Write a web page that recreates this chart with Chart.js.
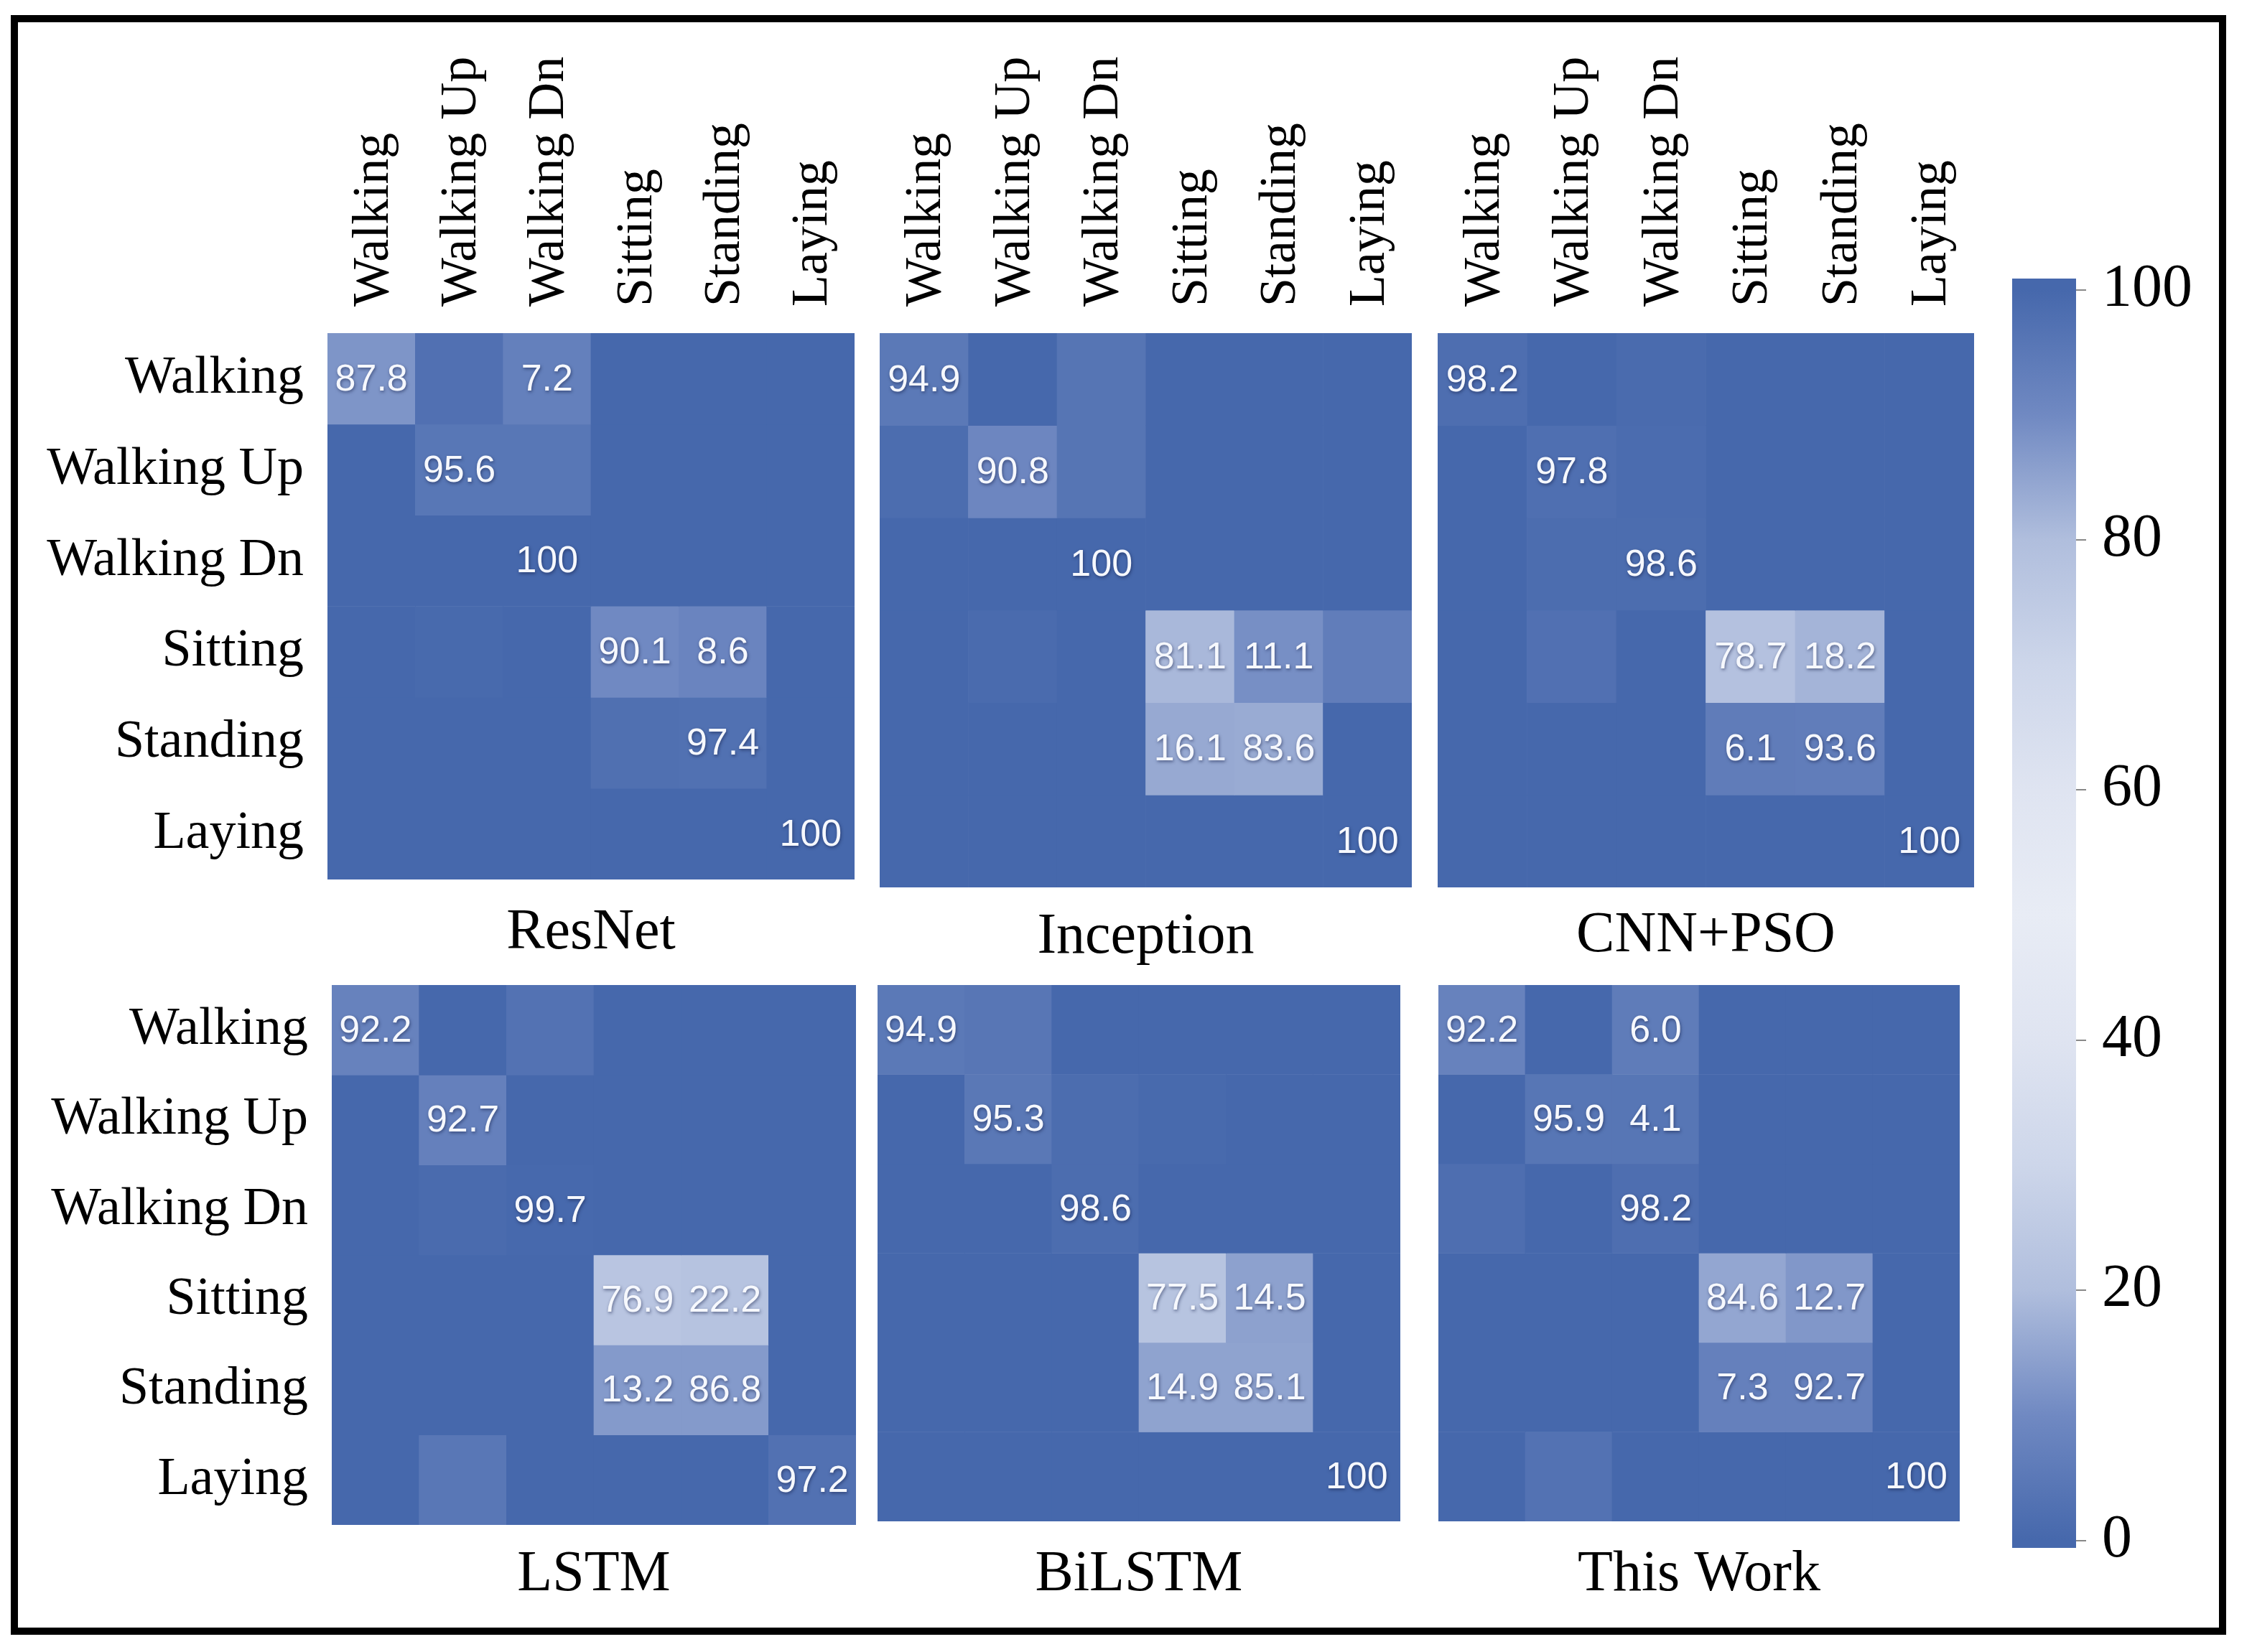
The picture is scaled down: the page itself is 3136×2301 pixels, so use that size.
<!DOCTYPE html>
<html>
<head>
<meta charset="utf-8">
<title>Confusion matrices</title>
<script src="https://cdn.jsdelivr.net/npm/chart.js"></script>
<style>
  html, body { margin: 0; padding: 0; background: #fff; }
  body { width: 3136px; height: 2301px; position: relative; overflow: hidden; }
  canvas { position: absolute; }
  #frame { position: absolute; left: 15px; top: 21px; width: 3085px; height: 2256px;
           box-sizing: border-box; border: 10px solid #000; }
</style>
</head>
<body>
<div id="frame"></div>
<script>
// classes (rows = true, columns = predicted)
const activities = ['Walking', 'Walking Up', 'Walking Dn', 'Sitting', 'Standing', 'Laying'];
const modelNames = ['ResNet', 'Inception', 'CNN+PSO', 'LSTM', 'BiLSTM', 'This Work'];

// percentages (unlabelled cells estimated from their shade)
const resnetValues = [
  [87.8, 2.5, 7.2, 0, 0, 0],
  [0, 95.6, 4.4, 0, 0, 0],
  [0, 0, 100, 0, 0, 0],
  [0, 0.5, 0, 90.1, 8.6, 0],
  [0, 0, 0, 2.4, 97.4, 0],
  [0, 0, 0, 0, 0, 100]
];
const inceptionValues = [
  [94.9, 0, 3.8, 0, 0, 0],
  [1.5, 90.8, 3.8, 0, 0, 0],
  [0, 0, 100, 0, 0, 0],
  [0, 1.0, 0, 81.1, 11.1, 6.5],
  [0, 0, 0, 16.1, 83.6, 0],
  [0, 0, 0, 0, 0, 100]
];
const cnnPsoValues = [
  [98.2, 0, 1.0, 0, 0, 0],
  [0, 97.8, 1.2, 0, 0, 0],
  [0, 1.4, 98.6, 0, 0, 0],
  [0, 2.5, 0, 78.7, 18.2, 0],
  [0, 0, 0, 6.1, 93.6, 0],
  [0, 0, 0, 0, 0, 100]
];
const lstmValues = [
  [92.2, 0, 3.0, 0, 0, 0],
  [0, 92.7, 0, 0, 0, 0],
  [0, 1.0, 99.7, 0, 0, 0],
  [0, 0, 0, 76.9, 22.2, 0],
  [0, 0, 0, 13.2, 86.8, 0],
  [0, 4.5, 0, 0, 0, 97.2]
];
const bilstmValues = [
  [94.9, 4.2, 0, 0, 0, 0],
  [0, 95.3, 1.5, 0.5, 0, 0],
  [0, 0, 98.6, 0, 0, 0],
  [0, 0, 0, 77.5, 14.5, 0],
  [0, 0, 0, 14.9, 85.1, 0],
  [0, 0, 0, 0, 0, 100]
];
const thisWorkValues = [
  [92.2, 0, 6.0, 0, 0, 0],
  [0, 95.9, 4.1, 0, 0, 0],
  [1.8, 0, 98.2, 0, 0, 0],
  [0, 0, 0, 84.6, 12.7, 0],
  [0, 0, 0, 7.3, 92.7, 0],
  [0, 3.0, 0, 0, 0, 100]
];

// cells that carry no number in the figure (besides the ones below 4)
const resnetHidden = [[1, 2]];
const inceptionHidden = [[3, 5]];
const cnnPsoHidden = [];
const lstmHidden = [[5, 1]];
const bilstmHidden = [[0, 1]];
const thisWorkHidden = [];

const colorbarTicks = [0, 20, 40, 60, 80, 100];

const panelValues = [resnetValues, inceptionValues, cnnPsoValues, lstmValues, bilstmValues, thisWorkValues];
const panelHidden = [resnetHidden, inceptionHidden, cnnPsoHidden, lstmHidden, bilstmHidden, thisWorkHidden];

// colour scale: dark at both ends, pale around 50
const cmap = [
  [0, '#4668ac'], [10, '#7089c2'], [20, '#b0bedd'], [30, '#cdd6ea'], [40, '#dfe4f1'],
  [50, '#e8ecf5'], [60, '#dfe4f1'], [70, '#cdd6ea'], [80, '#b0bedd'], [90, '#7089c2'], [100, '#4668ac']
];

function hexToRgb(h) {
  const n = parseInt(h.slice(1), 16);
  return [(n >> 16) & 255, (n >> 8) & 255, n & 255];
}

function colorFor(v) {
  for (let i = 1; i < cmap.length; i++) {
    if (v <= cmap[i][0]) {
      const [v0, c0] = cmap[i - 1];
      const [v1, c1] = cmap[i];
      const t = (v - v0) / (v1 - v0);
      const a = hexToRgb(c0), b = hexToRgb(c1);
      const m = a.map((x, k) => Math.round(x + (b[k] - x) * t));
      return 'rgb(' + m.join(',') + ')';
    }
  }
  return cmap[cmap.length - 1][1];
}

function fmt(v) {
  return v === 100 ? '100' : v.toFixed(1);
}

const serif = '"Liberation Serif", "Times New Roman", serif';

// draws the percentages in the cells
const cellTextPlugin = {
  id: 'cellText',
  afterDatasetsDraw(chart) {
    const ctx = chart.ctx;
    ctx.save();
    ctx.font = '52px "Liberation Sans", Arial, sans-serif';
    ctx.textAlign = 'center';
    ctx.textBaseline = 'middle';
    ctx.fillStyle = '#f6f8fd';
    ctx.shadowColor = 'rgba(20, 30, 70, 0.55)';
    ctx.shadowBlur = 4;
    ctx.shadowOffsetX = 1;
    ctx.shadowOffsetY = 2;
    chart.data.datasets.forEach((ds, r) => {
      chart.getDatasetMeta(r).data.forEach((bar, c) => {
        const t = ds.cellText[c];
        if (!t) return;
        const p = bar.getProps(['x', 'y', 'base'], true);
        ctx.fillText(t, p.x, (p.y + p.base) / 2 + 2);
      });
    });
    ctx.restore();
  }
};

const boxes = [
  {left: 456,  top: 464,  w: 734, h: 761, rows: true,  cols: true,  titleY: 1300},
  {left: 1225, top: 464,  w: 741, h: 772, rows: false, cols: true,  titleY: 1306},
  {left: 2002, top: 464,  w: 747, h: 772, rows: false, cols: true,  titleY: 1304},
  {left: 462,  top: 1372, w: 730, h: 752, rows: true,  cols: false, titleY: 2194},
  {left: 1222, top: 1372, w: 728, h: 747, rows: false, cols: false, titleY: 2194},
  {left: 2003, top: 1372, w: 726, h: 747, rows: false, cols: false, titleY: 2194}
];

function makePanel(idx) {
  const box = boxes[idx];
  const values = panelValues[idx];
  const hidden = panelHidden[idx];
  const yw = box.rows ? 440 : 0;
  const xh = box.cols ? 430 : 0;
  const titleBlock = 160;
  const padTop = box.titleY - (box.top + box.h) - 48;

  const canvas = document.createElement('canvas');
  canvas.width = box.w + yw;
  canvas.height = box.h + xh + titleBlock;
  canvas.style.left = (box.left - yw) + 'px';
  canvas.style.top = (box.top - xh) + 'px';
  document.body.appendChild(canvas);

  new Chart(canvas, {
    type: 'bar',
    data: {
      labels: activities,
      datasets: activities.map((rowName, r) => ({
        label: rowName,
        data: activities.map(() => [r, r + 1]),
        backgroundColor: values[r].map(colorFor),
        cellText: values[r].map((v, c) =>
          (v >= 4 && !hidden.some(([hr, hc]) => hr === r && hc === c)) ? fmt(v) : ''),
        borderWidth: 0,
        barPercentage: 1,
        categoryPercentage: 1,
        grouped: false
      }))
    },
    options: {
      responsive: false,
      animation: false,
      events: [],
      layout: { padding: 0 },
      plugins: {
        legend: { display: false },
        tooltip: { enabled: false },
        title: {
          display: true,
          text: modelNames[idx],
          position: 'bottom',
          fullSize: false,
          color: '#000',
          font: { family: serif, size: 80, weight: 'normal' },
          padding: { top: padTop, bottom: titleBlock - 96 - padTop }
        }
      },
      scales: {
        x: {
          type: 'category',
          position: 'top',
          display: box.cols,
          offset: true,
          grid: { display: false, drawTicks: false },
          border: { display: false },
          ticks: {
            font: { family: serif, size: 72 },
            color: '#000',
            minRotation: 90,
            maxRotation: 90,
            autoSkip: false,
            padding: 37,
            labelOffset: 90
          },
          afterFit: s => { s.height = xh; s.paddingLeft = 0; s.paddingRight = 0; }
        },
        y: {
          type: 'linear',
          display: box.rows,
          reverse: true,
          min: 0,
          max: activities.length,
          grid: { display: false, drawTicks: false },
          border: { display: false },
          ticks: {
            font: { family: serif, size: 74 },
            color: '#000',
            padding: 33,
            autoSkip: false,
            callback: (v, i) => activities[i]
          },
          afterBuildTicks: s => { s.ticks = activities.map((_, i) => ({ value: i + 0.5 })); },
          afterFit: s => {
            if (box.rows) s.width = yw;
            s.paddingTop = 0;
            s.paddingBottom = 0;
          }
        }
      }
    },
    plugins: [cellTextPlugin]
  });
}

for (let i = 0; i < boxes.length; i++) makePanel(i);

// colour bar
const cb = document.createElement('canvas');
cb.width = 89 + 200;
cb.height = 1768 + 120;
cb.style.left = '2802px';
cb.style.top = (388 - 60) + 'px';
document.body.appendChild(cb);

new Chart(cb, {
  type: 'bar',
  data: {
    labels: [''],
    datasets: [{
      data: [[-0.6, 100.9]],
      backgroundColor(ctx) {
        const chart = ctx.chart;
        if (!chart.chartArea) return cmap[0][1];
        const y = chart.scales.y;
        const g = chart.ctx.createLinearGradient(0, y.getPixelForValue(0), 0, y.getPixelForValue(100));
        cmap.forEach(([v, c]) => g.addColorStop(v / 100, c));
        return g;
      },
      borderWidth: 0,
      barPercentage: 1,
      categoryPercentage: 1
    }]
  },
  options: {
    responsive: false,
    animation: false,
    events: [],
    layout: { padding: { top: 60, bottom: 60 } },
    plugins: { legend: { display: false }, tooltip: { enabled: false } },
    scales: {
      x: { display: false },
      y: {
        position: 'right',
        min: -0.6,
        max: 100.9,
        afterBuildTicks: s => { s.ticks = colorbarTicks.map(v => ({ value: v })); },
        ticks: { font: { family: serif, size: 84 }, color: '#000', padding: 22 },
        grid: { drawOnChartArea: false, drawTicks: true, tickLength: 14, color: '#888', lineWidth: 2 },
        border: { display: false },
        afterFit: s => { s.width = 200; s.paddingTop = 0; s.paddingBottom = 0; }
      }
    }
  }
});
</script>
</body>
</html>
